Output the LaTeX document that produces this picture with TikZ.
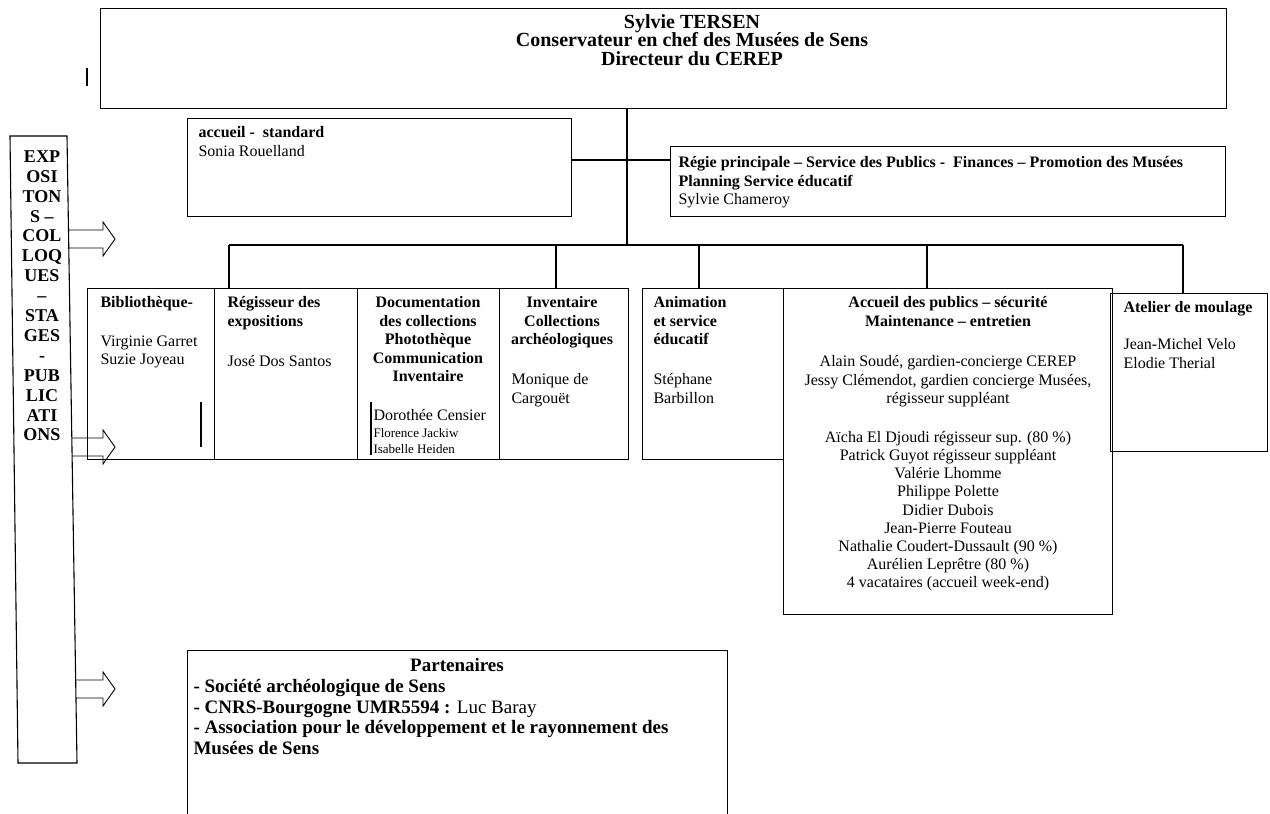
\documentclass[tikz,border=0pt]{standalone}
\usepackage{fontspec}
\setmainfont{Liberation Serif}
\usetikzlibrary{positioning}

\newcommand\fs{\fontsize{16}{18.5}\selectfont}
\newcommand\fsmall{\fontsize{13}{16}\selectfont}
\newcommand\fbig{\fontsize{19}{20}\selectfont}
\newcommand\fcol{\fontsize{18}{19.9}\selectfont}

\begin{document}
\begin{tikzpicture}[x=1pt, y=-1pt, line width=1.1pt,
  box/.style={draw, inner sep=0pt, anchor=north west},
  head/.style={font=\fs\bfseries, inner sep=0pt, align=center, anchor=north},
  headl/.style={font=\fs\bfseries, inner sep=0pt, align=left, anchor=north west},
  names/.style={font=\fs, inner sep=0pt, align=left, anchor=north west},
  namesc/.style={font=\fs, inner sep=0pt, align=center, anchor=north}]
\path[use as bounding box, fill=white] (0,0) rectangle (1270,814);

% direction
\node[box, minimum width=1126pt, minimum height=100pt] (dir) at (100,8) {};
\node[head, font=\fontsize{20}{18.5}\selectfont\bfseries] (dirtxt) at (692,14)
  {Sylvie TERSEN\\Conservateur en chef des Musées de Sens\\Directeur du CEREP};
\draw (87,68) -- (87,86);

% accueil et regie
\node[box, minimum width=384pt, minimum height=98pt] (accueil) at (187,118) {};
\node[names] (accueiltxt) at (198,126) {\textbf{accueil -\ \ standard}\\Sonia Rouelland};
\node[box, minimum width=555pt, minimum height=70pt] (regie) at (670,146) {};
\node[names] (regietxt) at (678,156)
  {\textbf{Régie principale – Service des Publics -\ \ Finances – Promotion des Musées}\\
   \textbf{Planning Service éducatif}\\Sylvie Chameroy};

% services
\node[box, minimum width=127pt, minimum height=171pt] (bib) at (87,288) {};
\node[box, minimum width=143pt, minimum height=171pt] (regi) at (214,288) {};
\node[box, minimum width=142pt, minimum height=171pt] (doc) at (357,288) {};
\node[box, minimum width=129pt, minimum height=171pt] (inv) at (499,288) {};
\node[box, minimum width=141pt, minimum height=171pt] (anim) at (642,288) {};
\node[box, minimum width=329pt, minimum height=326pt] (pub) at (783,288) {};
\node[box, minimum width=157pt, minimum height=158pt] (atel) at (1110,293) {};

\node[headl] (bibhead) at (100,296) {Bibliothèque-};
\node[names] (bibnames) at (100,335) {Virginie Garret\\Suzie Joyeau};
\draw (201,402) -- (201,447);

\node[headl] (regihead) at (227,296) {Régisseur des\\expositions};
\node[names] (reginames) at (227,355) {José Dos Santos};

\node[head] (dochead) at (428,296)
  {Documentation\\des collections\\Photothèque\\Communication\\Inventaire};
\begin{scope}
  \clip (doc.north west) rectangle (doc.south east);
  \node[names] (docname) at (373,409) {Dorothée Censier};
  \node[names, font=\fsmall] (docnames) at (373,428) {Florence Jackiw\\Isabelle Heiden};
\end{scope}
\draw (371,402) -- (371,455);

\node[head] (invhead) at (562,296) {Inventaire\\Collections\\archéologiques};
\node[names] (invnames) at (511,373) {Monique de\\Cargouët};

\node[headl] (animhead) at (653,296) {Animation\\et service\\éducatif};
\node[names] (animnames) at (653,373) {Stéphane\\Barbillon};

\node[head] (pubhead) at (948,296) {Accueil des publics – sécurité\\Maintenance – entretien};
\node[namesc] (pubstaff) at (948,355)
  {Alain Soudé, gardien-concierge CEREP\\Jessy Clémendot, gardien concierge Musées,\\régisseur suppléant};
\node[namesc, font=\fontsize{16}{18.1}\selectfont] (pubagents) at (948,431)
  {Aïcha El Djoudi régisseur sup. (80 \%)\\Patrick Guyot régisseur suppléant\\Valérie Lhomme\\
   Philippe Polette\\Didier Dubois\\Jean-Pierre Fouteau\\Nathalie Coudert-Dussault (90 \%)\\
   Aurélien Leprêtre (80 \%)\\4 vacataires (accueil week-end)};

\node[headl] (atelhead) at (1123,301) {Atelier de moulage};
\node[names] (atelnames) at (1123,338) {Jean-Michel Velo\\Elodie Therial};

% liaisons
\coordinate (hub) at (627,245);
\coordinate (side) at (627,160);
\draw (dir.south -| hub) -- (hub);
\draw (accueil.east |- side) -- (regie.west |- side);
\draw (229,245) -- (1183,245);
\foreach \x/\n in {229/regi, 556/inv, 699/anim, 927/pub, 1183/atel}{
  \coordinate (d\n) at (\x,245);
  \draw (d\n) -- (d\n |- \n.north);
}

% colonne de gauche
\draw (10,136) -- (67,136) -- (77,763) -- (18,763) -- cycle;
\node[head, font=\fcol\bfseries] (coltxt) at (42,150)
  {EXP\\OSI\\TON\\S –\\COL\\LOQ\\UES\\–\\STA\\GES\\-\\PUB\\LIC\\ATI\\ONS};
\foreach \y/\x in {239/69, 447/72, 689/76}
  \draw[line width=0.9pt] (\x,\y-9) -- (103,\y-9) -- (103,\y-17) -- (115,\y)
    -- (103,\y+17) -- (103,\y+9) -- (\x,\y+9);

% partenaires
\node[box, minimum width=540pt, minimum height=200pt] (part) at (187,650) {};
\node[head, font=\fbig\bfseries] (parthead) at (457,658) {Partenaires};
\node[names, font=\fontsize{19}{20.5}\selectfont] (partlist) at (193,679)
  {\textbf{- Société archéologique de Sens}\\
   \textbf{- CNRS-Bourgogne UMR5594 :} Luc Baray\\
   \textbf{- Association pour le développement et le rayonnement des}\\
   \textbf{Musées de Sens}};
\end{tikzpicture}
\end{document}
